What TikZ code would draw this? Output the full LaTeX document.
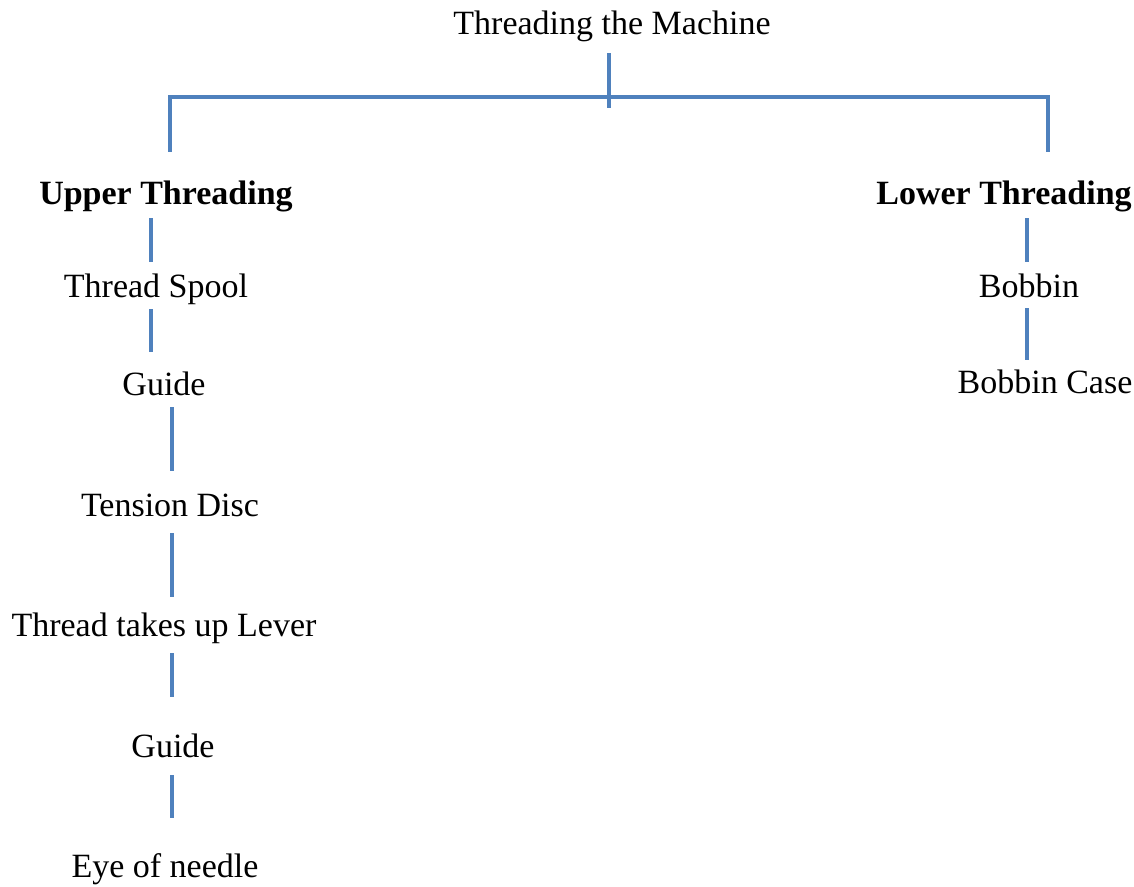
\documentclass[tikz,border=0pt]{standalone}
\usepackage{fontspec}
\setmainfont{Liberation Serif}
\definecolor{lineblue}{RGB}{79,129,189}
\begin{document}
\begin{tikzpicture}[x=1pt,y=-1pt,
  lbl/.style={anchor=base,inner sep=0pt,font=\fontsize{34}{40}\selectfont},
  hdr/.style={lbl,font=\fontsize{34}{40}\selectfont\bfseries},
  conn/.style={draw=lineblue,line width=4pt}]
\useasboundingbox (0,0) rectangle (1134,886);
% texts
\node[lbl] (title) at (612,34) {Threading the Machine};
\node[hdr] (upper) at (166,204) {Upper Threading};
\node[hdr] (lower) at (1004,204) {Lower Threading};
\node[lbl] (spool) at (156,297) {Thread Spool};
\node[lbl] (guide1) at (164,395) {Guide};
\node[lbl] (tension) at (170,516) {Tension Disc};
\node[lbl] (lever) at (164,636) {Thread takes up Lever};
\node[lbl] (guide2) at (173,757) {Guide};
\node[lbl] (eye) at (165,877) {Eye of needle};
\node[lbl] (bobbin) at (1029,297) {Bobbin};
\node[lbl] (case) at (1045,393) {Bobbin Case};
% connector points
\coordinate (tstem1) at (609,53);
\coordinate (tstem2) at (609,108);
\coordinate (hl) at (168,97);
\coordinate (hr) at (1050,97);
\coordinate (ld1) at (170,95);
\coordinate (ld2) at (170,152);
\coordinate (rd1) at (1048,95);
\coordinate (rd2) at (1048,152);
% bracket
\draw[conn] (tstem1) -- (tstem2);
\draw[conn] (hl) -- (hr);
\draw[conn] (ld1) -- (ld2);
\draw[conn] (rd1) -- (rd2);
% upper chain
\draw[conn] (151,218) -- (151,262);
\draw[conn] (151,309) -- (151,352);
\draw[conn] (172,407) -- (172,471);
\draw[conn] (172,533) -- (172,597);
\draw[conn] (172,653) -- (172,697);
\draw[conn] (172,775) -- (172,818);
% lower chain
\draw[conn] (1027,218) -- (1027,262);
\draw[conn] (1027,308) -- (1027,360);
\end{tikzpicture}
\end{document}
